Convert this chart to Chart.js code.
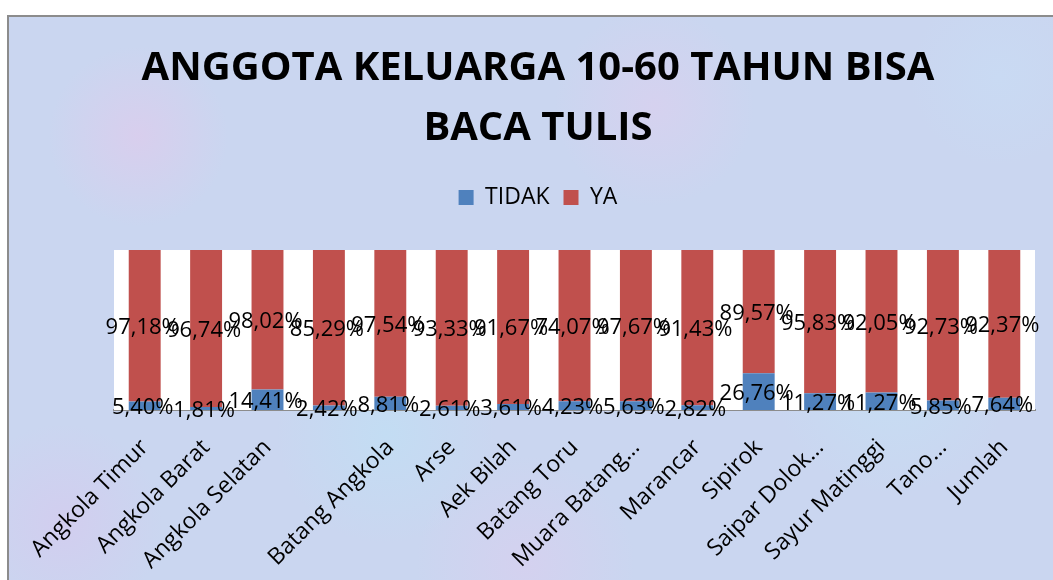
<!DOCTYPE html>
<html>
<head>
<meta charset="utf-8">
<script src="https://cdn.jsdelivr.net/npm/chart.js@4.4.1/dist/chart.umd.min.js"></script>
<style>
  html, body { margin: 0; padding: 0; width: 1053px; height: 580px; overflow: hidden; background: #ffffff; }
  #frame {
    position: absolute; left: 7px; top: 15px; width: 1080px; height: 600px;
    border: 2px solid #8c8c8c; box-sizing: border-box;
    background-color: #cad6f0;
    background-image:
      radial-gradient(circle at 12% 20%, rgba(228,200,235,0.55) 0, rgba(228,200,235,0) 90px),
      radial-gradient(circle at 35% 70%, rgba(190,225,245,0.6) 0, rgba(190,225,245,0) 110px),
      radial-gradient(circle at 60% 15%, rgba(225,205,238,0.5) 0, rgba(225,205,238,0) 100px),
      radial-gradient(circle at 82% 60%, rgba(195,228,246,0.55) 0, rgba(195,228,246,0) 120px),
      radial-gradient(circle at 5% 85%, rgba(215,200,238,0.6) 0, rgba(215,200,238,0) 100px),
      radial-gradient(circle at 92% 10%, rgba(200,222,246,0.5) 0, rgba(200,222,246,0) 90px),
      radial-gradient(circle at 48% 92%, rgba(222,204,238,0.5) 0, rgba(222,204,238,0) 110px);
  }
  #wrap { position: absolute; left: 0; top: 0; width: 1076px; height: 580px; }
</style>
</head>
<body>
<div id="frame"></div>
<div id="wrap"><canvas id="c"></canvas></div>
<script>
// ---- data ----
const categories = ['Angkola Timur', 'Angkola Barat', 'Angkola Selatan', '', 'Batang Angkola', 'Arse', 'Aek Bilah', 'Batang Toru', 'Muara Batang…', 'Marancar', 'Sipirok', 'Saipar Dolok…', 'Sayur Matinggi', 'Tano…', 'Jumlah'];
const tidakValues = [5.40, 1.81, 14.41, 2.42, 8.81, 2.61, 3.61, 4.23, 5.63, 2.82, 26.76, 11.27, 11.27, 5.85, 7.64];
const yaValues = [97.18, 96.74, 98.02, 85.29, 97.54, 93.33, 91.67, 74.07, 97.67, 91.43, 89.57, 95.83, 92.05, 92.73, 92.37];
const seriesNames = ['TIDAK', 'YA'];
const titleLines = ['ANGGOTA KELUARGA 10-60 TAHUN BISA', 'BACA TULIS'];

// 100% stacked: each column is shown as shares of its total
const totals = tidakValues.map((v, i) => v + yaValues[i]);
const tidakShare = tidakValues.map((v, i) => v / totals[i] * 100);
const yaShare = yaValues.map((v, i) => v / totals[i] * 100);
const rawValues = [tidakValues, yaValues];

const fmt = v => v.toFixed(2).replace('.', ',') + '%';

const plotBg = {
  id: 'plotBg',
  beforeDatasetsDraw(chart) {
    const a = chart.chartArea, ctx = chart.ctx;
    ctx.save(); ctx.fillStyle = '#ffffff';
    ctx.fillRect(a.left, a.top, a.right - a.left, a.bottom - a.top);
    ctx.restore();
  }
};

const labelsPlugin = {
  id: 'segLabels',
  afterDatasetsDraw(chart) {
    const ctx = chart.ctx;
    ctx.save();
    ctx.font = '22px "Open Sans"';
    ctx.fillStyle = '#000';
    ctx.textAlign = 'center';
    ctx.textBaseline = 'middle';
    chart.data.datasets.forEach((ds, di) => {
      const meta = chart.getDatasetMeta(di);
      meta.data.forEach((bar, i) => {
        const p = bar.getProps(['x', 'y', 'base'], true);
        ctx.fillText(fmt(rawValues[di][i]), p.x - 2, (p.y + p.base) / 2 + 2);
      });
    });
    ctx.restore();
  }
};

const legendSpace = {
  id: 'legendSpace',
  beforeInit(chart) {
    const lg = chart.legend;
    if (!lg) return;
    const orig = lg.fit;
    lg.fit = function () { orig.call(this); this.height += 31; };
  }
};

new Chart(document.getElementById('c'), {
  type: 'bar',
  data: {
    labels: categories,
    datasets: [
      { label: seriesNames[0], data: tidakShare, backgroundColor: '#4f81bd', stack: 's' },
      { label: seriesNames[1], data: yaShare, backgroundColor: '#c0504d', stack: 's' }
    ]
  },
  options: {
    responsive: true,
    maintainAspectRatio: false,
    animation: false,
    layout: { padding: 0 },
    datasets: { bar: { categoryPercentage: 1.0, barPercentage: 0.52 } },
    scales: {
      x: {
        stacked: true,
        grid: { display: false, drawTicks: false },
        border: { display: true, color: '#8c8c8c', width: 2 },
        ticks: {
          minRotation: 45, maxRotation: 45, autoSkip: false, padding: 24,
          color: '#000', font: { family: 'Open Sans', size: 23 }
        },
        afterFit(s) { s.height = 170; }
      },
      y: {
        stacked: true, min: 0, max: 100, position: 'left',
        grid: { display: false, drawTicks: false }, border: { display: false },
        ticks: { display: false },
        afterFit(s) { s.width = 114; }
      },
      y2: {
        position: 'right', min: 0, max: 100,
        grid: { display: false, drawTicks: false }, border: { display: false },
        ticks: { display: false },
        afterFit(s) { s.width = 41; }
      }
    },
    plugins: {
      tooltip: { enabled: false },
      title: {
        display: true, text: titleLines, color: '#000',
        font: { family: 'Open Sans', size: 40, weight: 'bold', lineHeight: 1.5 },
        padding: { top: 39, bottom: 13 }
      },
      legend: {
        display: true, position: 'top',
        labels: {
          color: '#000', font: { family: 'Open Sans', size: 23 },
          boxWidth: 15, boxHeight: 15, padding: 14
        }
      }
    }
  },
  plugins: [plotBg, labelsPlugin, legendSpace]
});
</script>
</body>
</html>
